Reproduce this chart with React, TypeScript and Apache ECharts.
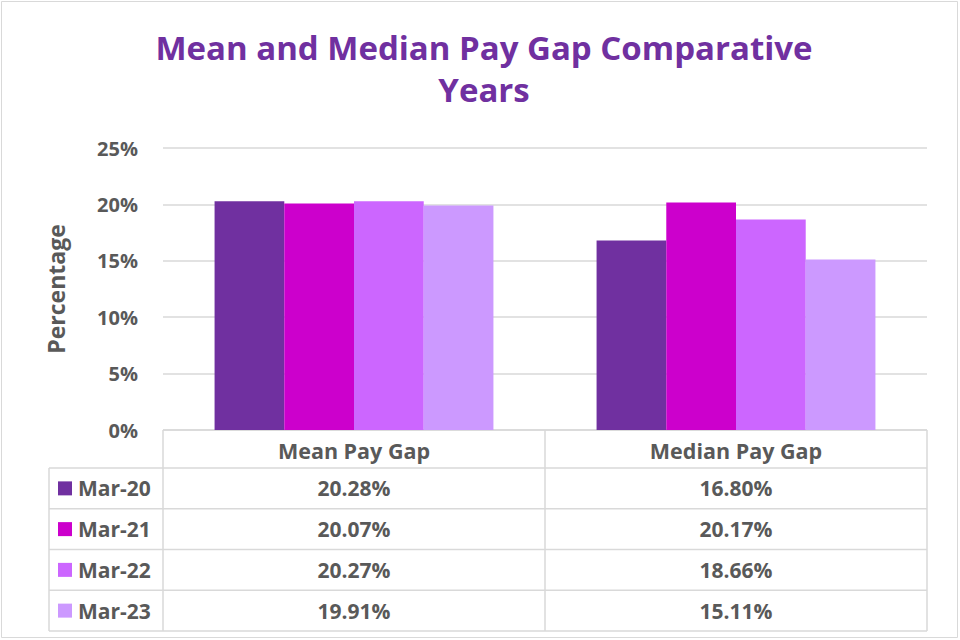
import React, { useEffect, useRef } from "react";
import * as echarts from "echarts";

const categories = ["Mean Pay Gap", "Median Pay Gap"];
const seriesNames = ["Mar-20", "Mar-21", "Mar-22", "Mar-23"];
const seriesColors = ["#7030A0", "#CC00CC", "#CC66FF", "#CC99FF"];
const values = [
  [20.28, 16.8],
  [20.07, 20.17],
  [20.27, 18.66],
  [19.91, 15.11],
];
const yTicks = [0, 5, 10, 15, 20, 25];

const W = 960;
const H = 640;
const G_LEFT = 163;
const G_RIGHT = 927;
const G_TOP = 148;
const G_BOTTOM = 430;
const HEADER_BOTTOM = 468;
const TABLE_BOTTOM = 631;
const LEGEND_LEFT = 49;
const LINE = "#D9D9D9";
const TXT = "#595959";
const FONT = "'Open Sans', 'Noto Sans', sans-serif";

export default function App() {
  const ref = useRef<HTMLDivElement>(null);
  useEffect(() => {
    if (!ref.current) return;
    const chart = echarts.init(ref.current, undefined, { renderer: "svg" });
    const rowH = (TABLE_BOTTOM - HEADER_BOTTOM) / seriesNames.length;
    const colW = (G_RIGHT - G_LEFT) / categories.length;
    const graphics: any[] = [];
    graphics.push({
      type: "rect",
      shape: { x: 1.5, y: 1.5, width: W - 4, height: H - 4 },
      style: { fill: "none", stroke: LINE, lineWidth: 1 },
      silent: true,
    });
    const hl = (x1: number, x2: number, y: number) =>
      graphics.push({ type: "line", shape: { x1, y1: y, x2, y2: y }, style: { stroke: LINE, lineWidth: 1.5 }, silent: true });
    const vl = (x: number, y1: number, y2: number) =>
      graphics.push({ type: "line", shape: { x1: x, y1, x2: x, y2 }, style: { stroke: LINE, lineWidth: 1.5 }, silent: true });
    hl(G_LEFT, G_RIGHT, G_BOTTOM);
    for (let i = 0; i <= seriesNames.length; i++) hl(LEGEND_LEFT, G_RIGHT, HEADER_BOTTOM + i * rowH);
    vl(LEGEND_LEFT, HEADER_BOTTOM, TABLE_BOTTOM);
    for (let c = 0; c <= categories.length; c++) vl(G_LEFT + c * colW, G_BOTTOM, TABLE_BOTTOM);
    seriesNames.forEach((name, i) => {
      const cy = HEADER_BOTTOM + (i + 0.5) * rowH;
      graphics.push({
        type: "rect",
        shape: { x: 58, y: cy - 7, width: 14, height: 14 },
        style: { fill: seriesColors[i] },
        silent: true,
      });
      graphics.push({
        type: "text",
        x: 78,
        y: cy,
        style: { text: name, fill: TXT, font: `bold 21px ${FONT}`, textVerticalAlign: "middle", textAlign: "left" },
        silent: true,
      });
      categories.forEach((_, c) => {
        graphics.push({
          type: "text",
          x: G_LEFT + (c + 0.5) * colW,
          y: cy,
          style: {
            text: values[i][c].toFixed(2) + "%",
            fill: TXT,
            font: `bold 21px ${FONT}`,
            textVerticalAlign: "middle",
            textAlign: "center",
          },
          silent: true,
        });
      });
    });

    chart.setOption({
      animation: false,
      backgroundColor: "#ffffff",
      title: {
        text: "Mean and Median Pay Gap Comparative\nYears",
        left: 479,
        textAlign: "center",
        top: 21,
        textStyle: { color: "#7030A0", fontSize: 33, fontWeight: "bold", fontFamily: FONT, lineHeight: 42 },
      },
      grid: { left: G_LEFT, right: W - G_RIGHT, top: G_TOP, bottom: H - G_BOTTOM, containLabel: false },
      xAxis: {
        type: "category",
        data: categories,
        axisLine: { show: false },
        axisTick: { show: false },
        axisLabel: { color: TXT, fontSize: 21.5, fontWeight: "bold", fontFamily: FONT, margin: 9 },
      },
      yAxis: {
        type: "value",
        min: yTicks[0],
        max: yTicks[yTicks.length - 1],
        interval: 5,
        name: "Percentage",
        nameLocation: "middle",
        nameGap: 96,
        nameTextStyle: { color: TXT, fontSize: 23, fontWeight: "bold", fontFamily: FONT },
        axisLabel: { color: TXT, fontSize: 20, fontWeight: "bold", fontFamily: FONT, formatter: "{value}%", margin: 25 },
        splitLine: { lineStyle: { color: LINE, width: 1.5 } },
        axisLine: { show: false },
        axisTick: { show: false },
      },
      series: seriesNames.map((name, i) => ({
        name,
        type: "bar",
        data: values[i],
        barGap: "0%",
        barCategoryGap: "27%",
        itemStyle: { color: seriesColors[i] },
      })),
      graphic: graphics,
    });
    return () => chart.dispose();
  }, []);
  return <div ref={ref} style={{ position: "fixed", left: 0, top: 0, width: W, height: H }} />;
}
